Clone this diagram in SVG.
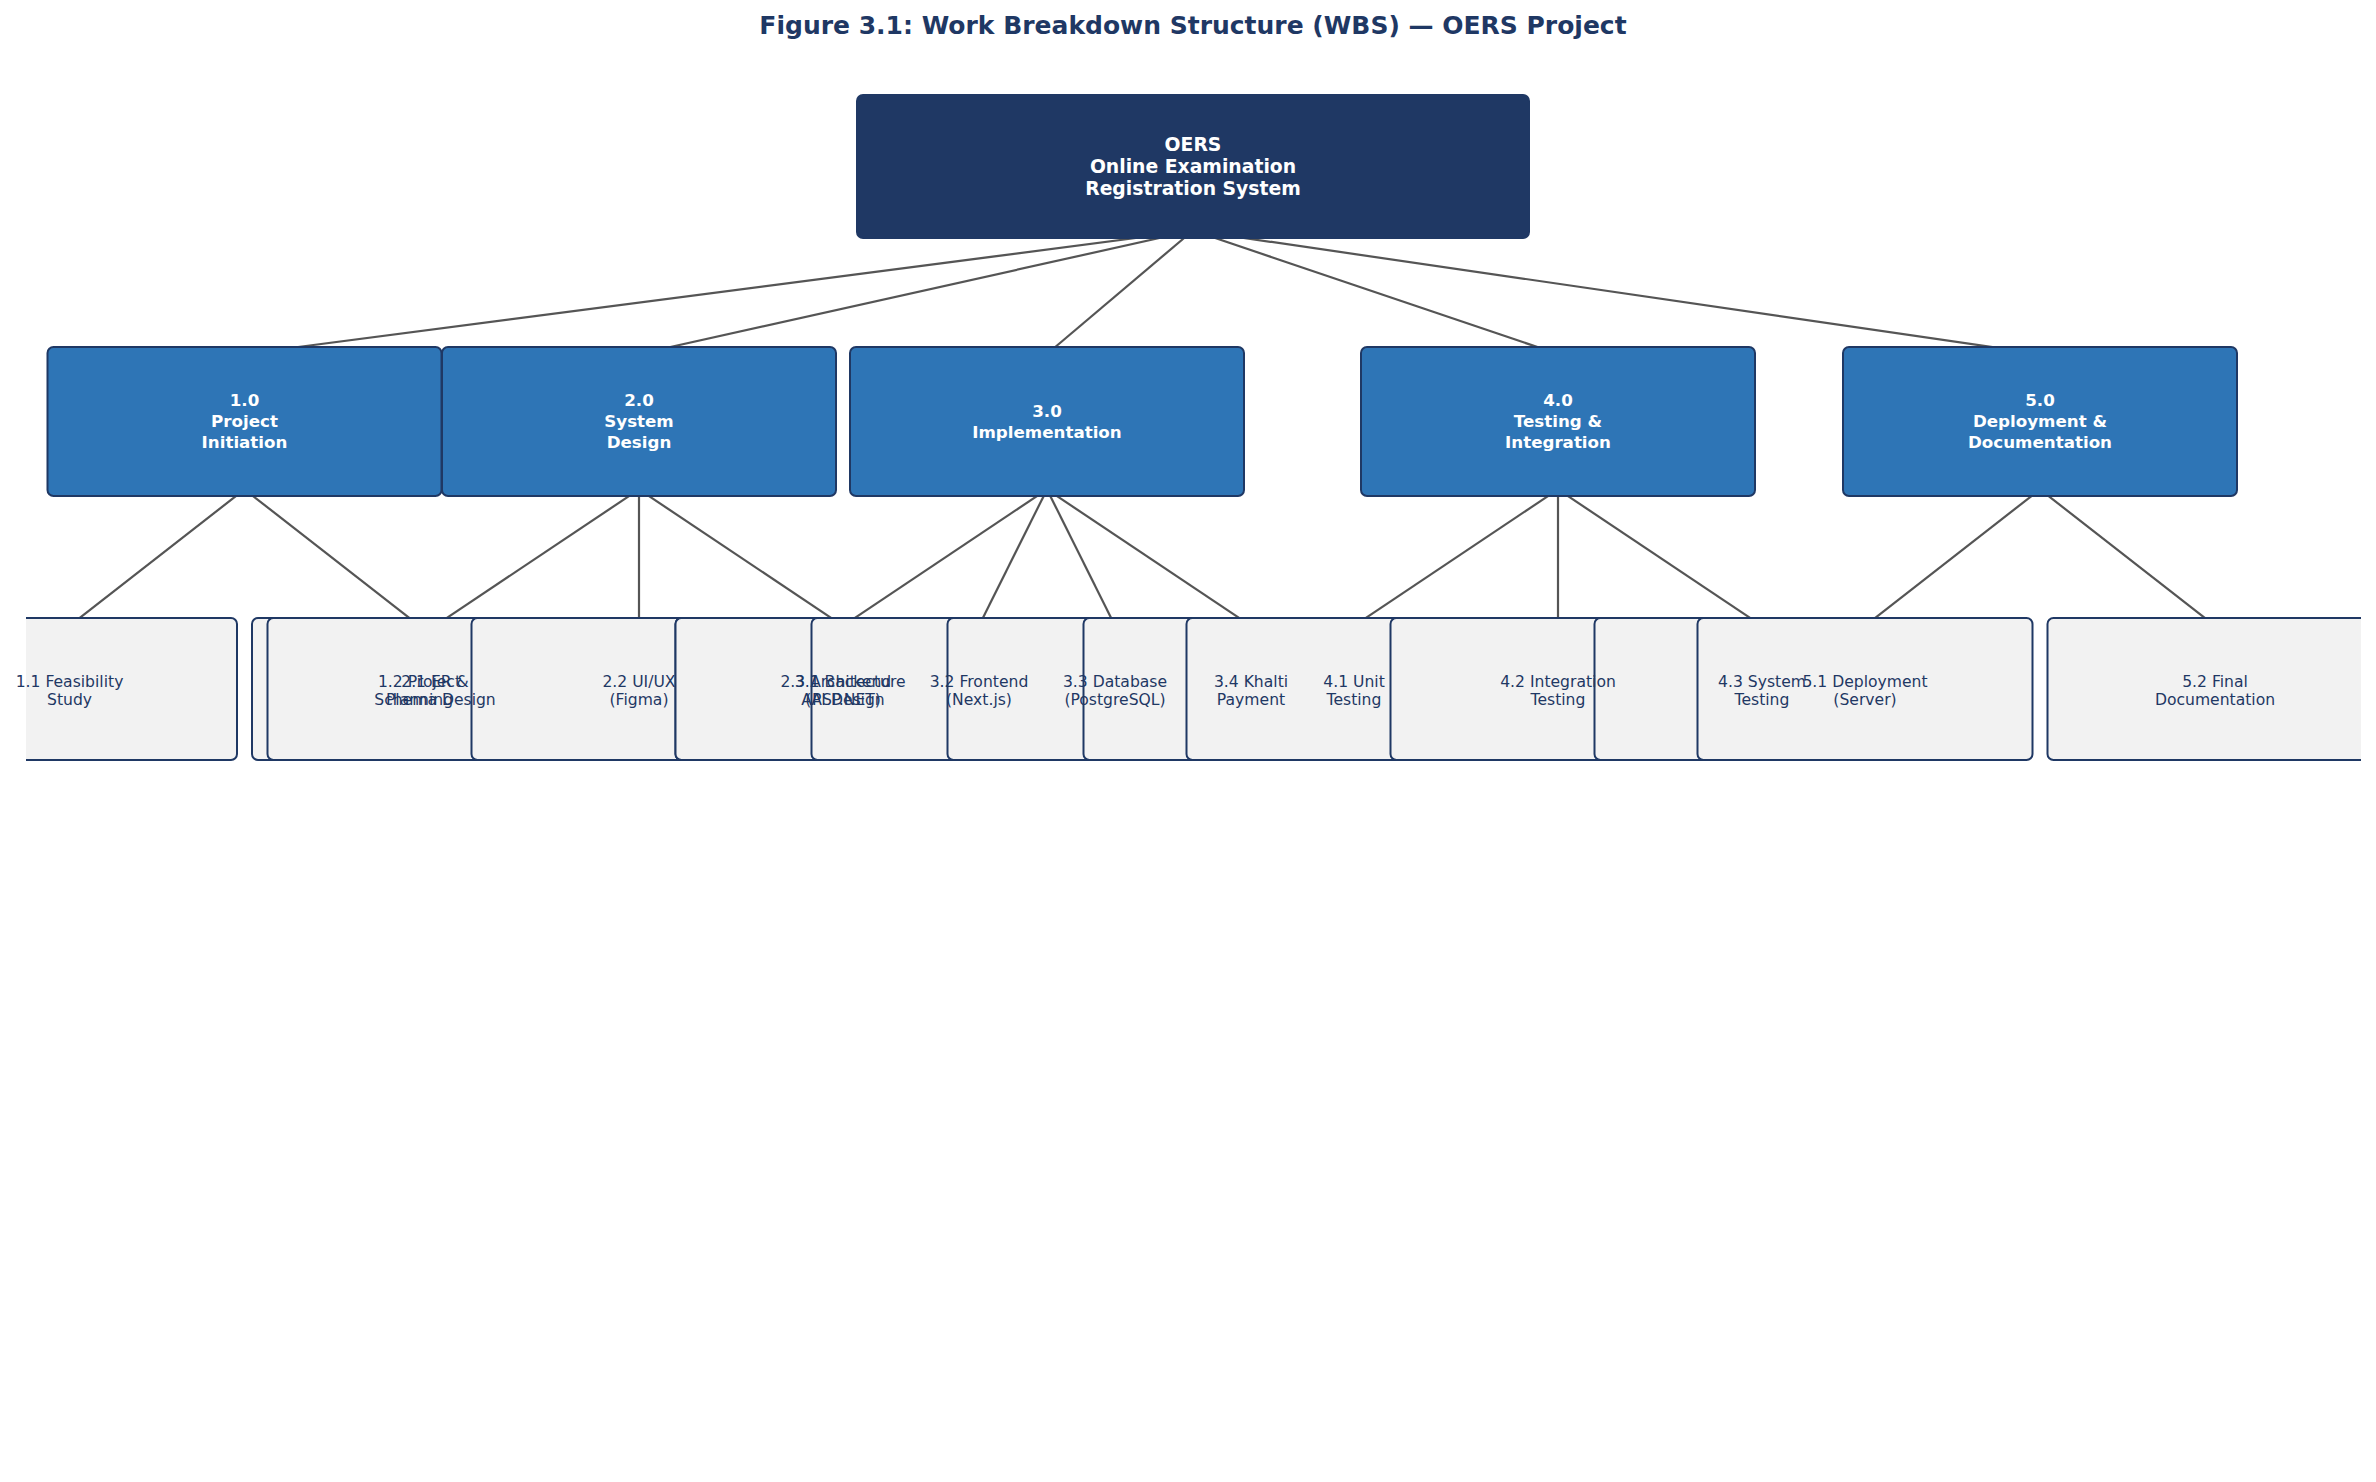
<svg xmlns="http://www.w3.org/2000/svg" width="2376" height="1482" viewBox="0 0 2376 1482">
<style>
text{font-family:"DejaVu Sans","Liberation Sans",sans-serif;text-anchor:middle}
.title{font-size:25px;font-weight:bold;fill:#1f3864}
.root{fill:#1f3864;stroke:#1f3864;stroke-width:2}
.l1{fill:#2e75b6;stroke:#1f3864;stroke-width:2}
.l2{fill:#f2f2f2;stroke:#1f3864;stroke-width:2}
.troot{font-size:18.8px;font-weight:bold;fill:#ffffff}
.t1{font-size:16.7px;font-weight:bold;fill:#ffffff}
.t2{font-size:15.6px;fill:#1f3864}
#connectors line{stroke:#555555;stroke-width:2.2}
</style>
<defs>
<clipPath id="axclip"><rect x="26" y="0" width="2335" height="1482"/></clipPath>
</defs>
<rect width="2376" height="1482" fill="#ffffff"/>
<text class="title" x="1193" y="33.5">Figure 3.1: Work Breakdown Structure (WBS) — OERS Project</text>
<g id="connectors">
<line x1="1193" y1="230.5" x2="244.5" y2="354"/>
<line x1="1193" y1="230.5" x2="639" y2="354"/>
<line x1="1193" y1="230.5" x2="1047" y2="354"/>
<line x1="1193" y1="230.5" x2="1558" y2="354"/>
<line x1="1193" y1="230.5" x2="2040" y2="354"/>
<line x1="244.5" y1="489.4" x2="69.5" y2="625.8"/>
<line x1="244.5" y1="489.4" x2="419.5" y2="625.8"/>
<line x1="639" y1="489.4" x2="435" y2="625.8"/>
<line x1="639" y1="489.4" x2="639" y2="625.8"/>
<line x1="639" y1="489.4" x2="843" y2="625.8"/>
<line x1="1047" y1="489.4" x2="843" y2="625.8"/>
<line x1="1047" y1="489.4" x2="979" y2="625.8"/>
<line x1="1047" y1="489.4" x2="1115" y2="625.8"/>
<line x1="1047" y1="489.4" x2="1251" y2="625.8"/>
<line x1="1558" y1="489.4" x2="1354" y2="625.8"/>
<line x1="1558" y1="489.4" x2="1558" y2="625.8"/>
<line x1="1558" y1="489.4" x2="1762" y2="625.8"/>
<line x1="2040" y1="489.4" x2="1865" y2="625.8"/>
<line x1="2040" y1="489.4" x2="2215" y2="625.8"/>
</g>
<g id="nodes">
<g id="n-root"><rect class="root" x="857" y="95" width="672" height="143" rx="6"/></g>
<g id="n-1-0"><rect class="l1" x="47.5" y="347" width="394" height="149" rx="6"/></g>
<g id="n-2-0"><rect class="l1" x="442" y="347" width="394" height="149" rx="6"/></g>
<g id="n-3-0"><rect class="l1" x="850" y="347" width="394" height="149" rx="6"/></g>
<g id="n-4-0"><rect class="l1" x="1361" y="347" width="394" height="149" rx="6"/></g>
<g id="n-5-0"><rect class="l1" x="1843" y="347" width="394" height="149" rx="6"/></g>
<g clip-path="url(#axclip)">
<g id="n-1-1"><rect class="l2" x="-98" y="618" width="335" height="142" rx="6"/></g>
<g id="n-1-2"><rect class="l2" x="252" y="618" width="335" height="142" rx="6"/></g>
<g id="n-2-1"><rect class="l2" x="267.5" y="618" width="335" height="142" rx="6"/></g>
<g id="n-2-2"><rect class="l2" x="471.5" y="618" width="335" height="142" rx="6"/></g>
<g id="n-2-3"><rect class="l2" x="675.5" y="618" width="335" height="142" rx="6"/></g>
<g id="n-3-1"><rect class="l2" x="675.5" y="618" width="335" height="142" rx="6"/></g>
<g id="n-3-2"><rect class="l2" x="811.5" y="618" width="335" height="142" rx="6"/></g>
<g id="n-3-3"><rect class="l2" x="947.5" y="618" width="335" height="142" rx="6"/></g>
<g id="n-3-4"><rect class="l2" x="1083.5" y="618" width="335" height="142" rx="6"/></g>
<g id="n-4-1"><rect class="l2" x="1186.5" y="618" width="335" height="142" rx="6"/></g>
<g id="n-4-2"><rect class="l2" x="1390.5" y="618" width="335" height="142" rx="6"/></g>
<g id="n-4-3"><rect class="l2" x="1594.5" y="618" width="335" height="142" rx="6"/></g>
<g id="n-5-1"><rect class="l2" x="1697.5" y="618" width="335" height="142" rx="6"/></g>
<g id="n-5-2"><rect class="l2" x="2047.5" y="618" width="335" height="142" rx="6"/></g>
</g>
</g>
<g id="labels">
<g id="lbl-root"><text class="troot" x="1193" y="151">OERS</text><text class="troot" x="1193" y="173">Online Examination</text><text class="troot" x="1193" y="195">Registration System</text></g>
<g id="lbl-1-0"><text class="t1" x="244.5" y="406">1.0</text><text class="t1" x="244.5" y="427">Project</text><text class="t1" x="244.5" y="448">Initiation</text></g>
<g id="lbl-2-0"><text class="t1" x="639" y="406">2.0</text><text class="t1" x="639" y="427">System</text><text class="t1" x="639" y="448">Design</text></g>
<g id="lbl-3-0"><text class="t1" x="1047" y="416.5">3.0</text><text class="t1" x="1047" y="437.5">Implementation</text></g>
<g id="lbl-4-0"><text class="t1" x="1558" y="406">4.0</text><text class="t1" x="1558" y="427">Testing &amp;</text><text class="t1" x="1558" y="448">Integration</text></g>
<g id="lbl-5-0"><text class="t1" x="2040" y="406">5.0</text><text class="t1" x="2040" y="427">Deployment &amp;</text><text class="t1" x="2040" y="448">Documentation</text></g>
<g id="lbl-1-1"><text class="t2" x="69.5" y="687">1.1 Feasibility</text><text class="t2" x="69.5" y="705">Study</text></g>
<g id="lbl-1-2"><text class="t2" x="419.5" y="687">1.2 Project</text><text class="t2" x="419.5" y="705">Planning</text></g>
<g id="lbl-2-1"><text class="t2" x="435" y="687">2.1 ER &amp;</text><text class="t2" x="435" y="705">Schema Design</text></g>
<g id="lbl-2-2"><text class="t2" x="639" y="687">2.2 UI/UX</text><text class="t2" x="639" y="705">(Figma)</text></g>
<g id="lbl-2-3"><text class="t2" x="843" y="687">2.3 Architecture</text><text class="t2" x="843" y="705">API Design</text></g>
<g id="lbl-3-1"><text class="t2" x="843" y="687">3.1 Backend</text><text class="t2" x="843" y="705">(ASP.NET)</text></g>
<g id="lbl-3-2"><text class="t2" x="979" y="687">3.2 Frontend</text><text class="t2" x="979" y="705">(Next.js)</text></g>
<g id="lbl-3-3"><text class="t2" x="1115" y="687">3.3 Database</text><text class="t2" x="1115" y="705">(PostgreSQL)</text></g>
<g id="lbl-3-4"><text class="t2" x="1251" y="687">3.4 Khalti</text><text class="t2" x="1251" y="705">Payment</text></g>
<g id="lbl-4-1"><text class="t2" x="1354" y="687">4.1 Unit</text><text class="t2" x="1354" y="705">Testing</text></g>
<g id="lbl-4-2"><text class="t2" x="1558" y="687">4.2 Integration</text><text class="t2" x="1558" y="705">Testing</text></g>
<g id="lbl-4-3"><text class="t2" x="1762" y="687">4.3 System</text><text class="t2" x="1762" y="705">Testing</text></g>
<g id="lbl-5-1"><text class="t2" x="1865" y="687">5.1 Deployment</text><text class="t2" x="1865" y="705">(Server)</text></g>
<g id="lbl-5-2"><text class="t2" x="2215" y="687">5.2 Final</text><text class="t2" x="2215" y="705">Documentation</text></g>
</g>
</svg>
